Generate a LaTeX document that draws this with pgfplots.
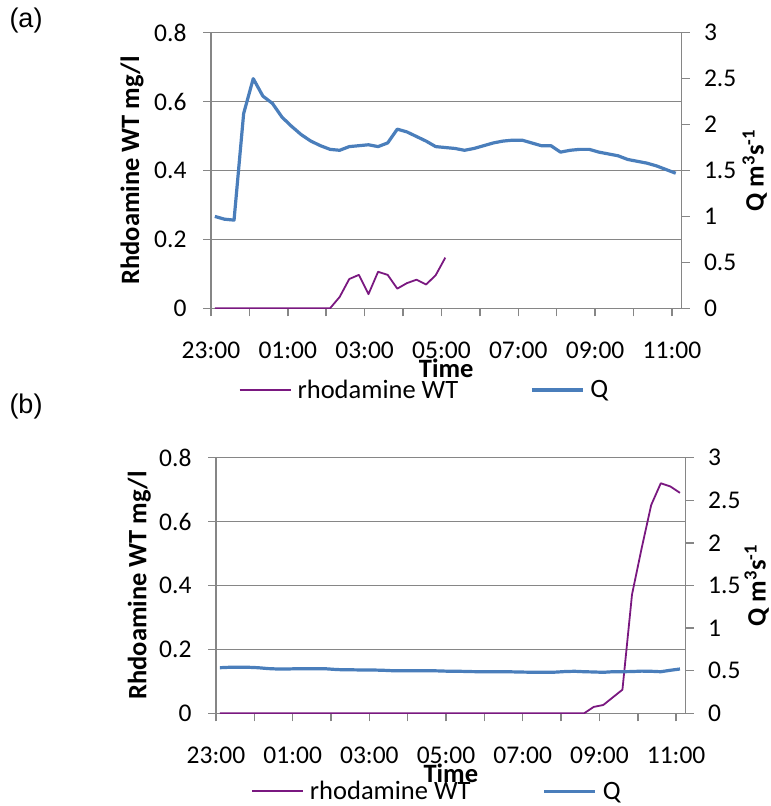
\documentclass[border=0pt]{standalone}
\usepackage{fontspec}
\setmainfont{Carlito}
\newfontfamily\arial{Liberation Sans}
\usepackage{pgfplots}
\pgfplotsset{compat=1.18}
\definecolor{rhod}{RGB}{122,24,128}
\definecolor{qblue}{RGB}{74,126,187}
\definecolor{axgray}{RGB}{134,134,134}
\pgfplotsset{
  base/.style={
    scale only axis, xmin=0, xmax=12.25,
    xtick={0,1,2,3,4,5,6,7,8,9,10,11,12},
    xticklabels={23:00,,01:00,,03:00,,05:00,,07:00,,09:00,,11:00},
    tick align=outside, major tick length=8bp,
    every tick/.style={axgray, line width=1.5bp},
    axis line style={-, axgray, line width=1.5bp},
    tick label style={font=\fontsize{25.5bp}{30bp}\selectfont, black},
    label style={font=\fontsize{26.5bp}{31bp}\selectfont\bfseries},
    /pgf/number format/assume math mode=true,
    legend cell align=left,
  },
  lefta/.style={base, axis x line*=bottom, axis y line*=left,
    ymin=0, ymax=0.8, ytick={0,0.2,0.4,0.6,0.8},
    ymajorgrids, grid style={axgray, line width=1.5bp},
    yticklabel style={/pgf/number format/fixed, /pgf/number format/precision=1, xshift=-13bp},
    xticklabel style={yshift=-22bp},
    xlabel={Time}, ylabel={Rhdoamine WT mg/l}},
  righta/.style={base, axis x line=none, axis y line*=right,
    ymin=0, ymax=3, ytick={0,0.5,1,1.5,2,2.5,3},
    yticklabel style={xshift=11bp},
    ylabel={Q m\textsuperscript{3}s\textsuperscript{-1}},
    legend columns=2,
    legend style={draw=none, fill=none, inner sep=0pt, anchor=west,
      font=\fontsize{26.5bp}{31bp}\selectfont,
      nodes={inner sep=0pt},
      /tikz/every odd column/.append style={column sep=6bp},
      /tikz/every even column/.append style={column sep=72bp}},
    legend image code/.code={\draw[##1] (0bp,0bp) -- (51bp,0bp);}},
}
\begin{document}
\begin{tikzpicture}
\useasboundingbox (0,0) rectangle (771bp,806bp);
\node[font=\arial\fontsize{27bp}{32bp}\selectfont] at (26bp,785bp) {(a)};
\node[font=\arial\fontsize{27bp}{32bp}\selectfont] at (26bp,399bp) {(b)};
% ---------- panel (a) ----------
\begin{axis}[lefta, at={(211bp,497.7bp)}, anchor=south west,
  width=470.5bp, height=275.6bp,
  xlabel style={at={(axis description cs:0.5,-0.2177)}, anchor=center},
  ylabel style={at={(axis description cs:-0.1679,0.5)}, anchor=center}]
\addplot[rhod, line width=1.8bp, line join=round] coordinates {
(0.10,0) (0.35,0) (0.60,0) (0.85,0) (1.10,0) (1.35,0) (1.60,0) (1.85,0)
(2.10,0) (2.35,0) (2.60,0) (2.85,0) (3.10,0) (3.35,0.033) (3.60,0.085)
(3.85,0.097) (4.10,0.041) (4.35,0.106) (4.60,0.097) (4.85,0.057)
(5.10,0.073) (5.35,0.083) (5.60,0.069) (5.85,0.096) (6.10,0.147)};
\end{axis}
\begin{axis}[righta, at={(211bp,497.7bp)}, anchor=south west,
  width=470.5bp, height=275.6bp,
  ylabel style={at={(axis description cs:1.1555,0.5)}, anchor=center},
  legend style={at={(axis description cs:0.0587,-0.2964)}}]
\addlegendimage{rhod, line width=1.8bp}
\addlegendentry{rhodamine WT}
\addplot[qblue, line width=3.2bp, line join=round] coordinates {
(0.10,1.00) (0.35,0.97) (0.60,0.96) (0.85,2.12) (1.10,2.50) (1.35,2.31)
(1.60,2.23) (1.85,2.08) (2.10,1.98) (2.35,1.89) (2.60,1.82) (2.85,1.77)
(3.10,1.73) (3.35,1.72) (3.60,1.76) (3.85,1.77) (4.10,1.78) (4.35,1.76)
(4.60,1.80) (4.85,1.95) (5.10,1.92) (5.35,1.87) (5.60,1.82) (5.85,1.76)
(6.10,1.75) (6.35,1.74) (6.60,1.72) (6.85,1.74) (7.10,1.77) (7.35,1.80)
(7.60,1.82) (7.85,1.83) (8.10,1.83) (8.35,1.80) (8.60,1.77) (8.85,1.77)
(9.10,1.70) (9.35,1.72) (9.60,1.73) (9.85,1.73) (10.10,1.70) (10.35,1.68)
(10.60,1.66) (10.85,1.62) (11.10,1.60) (11.35,1.58) (11.60,1.55)
(11.85,1.51) (12.10,1.47)};
\addlegendentry{Q}
\end{axis}
% ---------- panel (b) ----------
\begin{axis}[lefta, at={(216bp,92.7bp)}, anchor=south west,
  width=469.7bp, height=255.6bp,
  xlabel style={at={(axis description cs:0.5,-0.2347)}, anchor=center},
  ylabel style={at={(axis description cs:-0.1635,0.5)}, anchor=center}]
\addplot[rhod, line width=1.8bp, line join=round] coordinates {
(0.10,0) (0.35,0) (0.60,0) (0.85,0) (1.10,0) (1.35,0) (1.60,0) (1.85,0)
(2.10,0) (2.35,0) (2.60,0) (2.85,0) (3.10,0) (3.35,0) (3.60,0) (3.85,0)
(4.10,0) (4.35,0) (4.60,0) (4.85,0) (5.10,0) (5.35,0) (5.60,0) (5.85,0)
(6.10,0) (6.35,0) (6.60,0) (6.85,0) (7.10,0) (7.35,0) (7.60,0) (7.85,0)
(8.10,0) (8.35,0) (8.60,0) (8.85,0) (9.10,0) (9.35,0) (9.60,0)
(9.85,0.020) (10.10,0.026) (10.35,0.050) (10.60,0.074) (10.85,0.372)
(11.10,0.516) (11.35,0.652) (11.60,0.720) (11.85,0.710) (12.10,0.690)};
\end{axis}
\begin{axis}[righta, at={(216bp,92.7bp)}, anchor=south west,
  width=469.7bp, height=255.6bp,
  ylabel style={at={(axis description cs:1.151,0.5)}, anchor=center},
  legend style={at={(axis description cs:0.0745,-0.305)}}]
\addlegendimage{rhod, line width=1.8bp}
\addlegendentry{rhodamine WT}
\addplot[qblue, line width=3.2bp, line join=round] coordinates {
(0.10,0.535) (0.35,0.54) (0.60,0.54) (0.85,0.54) (1.10,0.535) (1.35,0.525)
(1.60,0.52) (1.85,0.52) (2.10,0.523) (2.35,0.523) (2.60,0.523) (2.85,0.523)
(3.10,0.515) (3.35,0.51) (3.60,0.51) (3.85,0.508) (4.10,0.508) (4.35,0.505)
(4.60,0.50) (4.85,0.50) (5.10,0.50) (5.35,0.50) (5.60,0.50) (5.85,0.497)
(6.10,0.493) (6.35,0.493) (6.60,0.49) (6.85,0.488) (7.10,0.488) (7.35,0.488)
(7.60,0.488) (7.85,0.485) (8.10,0.483) (8.35,0.481) (8.60,0.481) (8.85,0.483)
(9.10,0.49) (9.35,0.493) (9.60,0.488) (9.85,0.485) (10.10,0.481) (10.35,0.488)
(10.60,0.488) (10.85,0.49) (11.10,0.495) (11.35,0.493) (11.60,0.488)
(11.85,0.505) (12.10,0.52)};
\addlegendentry{Q}
\end{axis}
\end{tikzpicture}
\end{document}
